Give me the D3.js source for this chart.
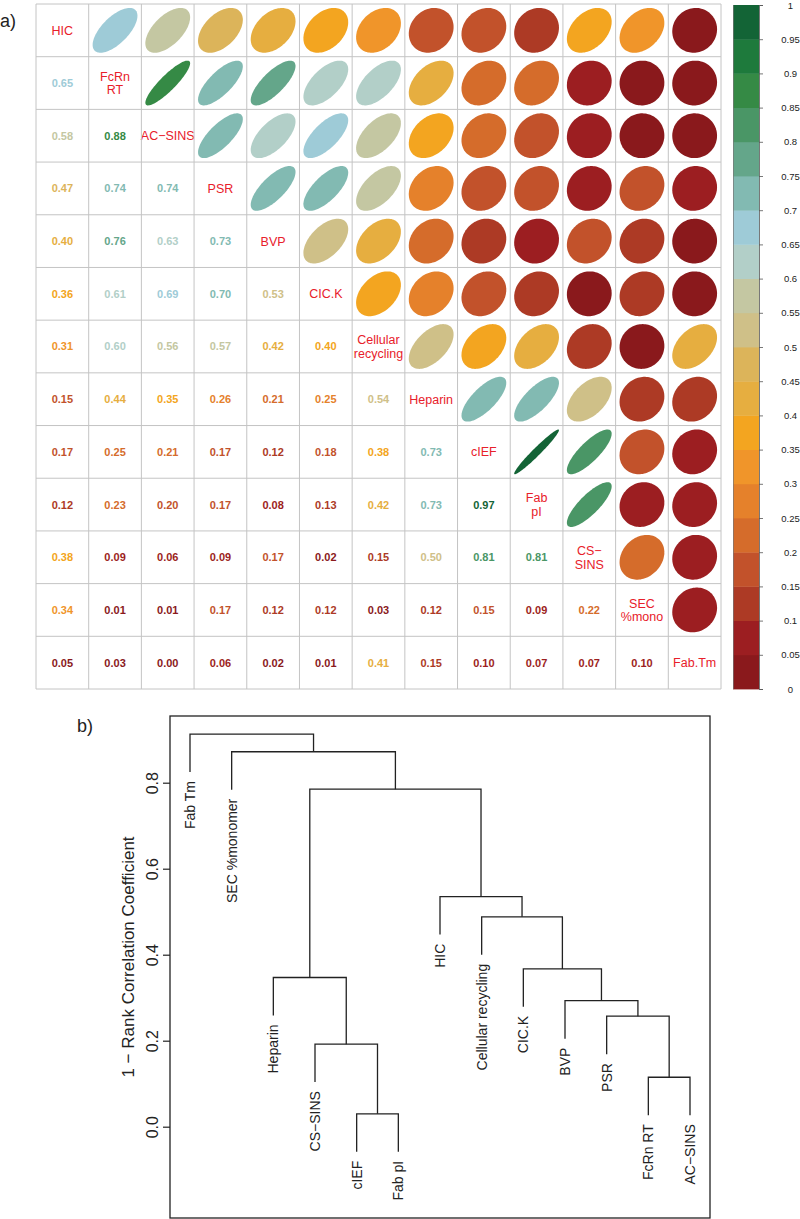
<!DOCTYPE html>
<meta charset="utf-8">
<style>
body {
	margin: 0;
	background: #fff;
}
svg {
	font-family: "Liberation Sans", Arial, sans-serif;
}
</style>
<body>
<svg width="800" height="1219"></svg>
<script src="https://d3js.org/d3.v7.min.js"></script>
<script>

// ---- panel a) data ----
var vars = ["HIC", "FcRn\nRT", "AC−SINS", "PSR", "BVP", "CIC.K", "Cellular\nrecycling",
	"Heparin", "cIEF", "Fab\npI", "CS−\nSINS", "SEC\n%mono", "Fab.Tm"];

// lower triangle, row i holds r(i, 0..i-1)
// (values on a bin edge nudged to the side their colour shows)
var lower = [
	[],
	[0.65],
	[0.58, 0.88],
	[0.47, 0.74, 0.74],
	[0.40, 0.76, 0.63, 0.73],
	[0.36, 0.61, 0.69, 0.70, 0.53],
	[0.31, 0.60, 0.56, 0.57, 0.42, 0.398],
	[0.15, 0.44, 0.35, 0.26, 0.21, 0.25, 0.54],
	[0.17, 0.249, 0.21, 0.17, 0.12, 0.18, 0.38, 0.73],
	[0.12, 0.23, 0.199, 0.17, 0.08, 0.13, 0.42, 0.73, 0.97],
	[0.38, 0.09, 0.06, 0.09, 0.17, 0.02, 0.149, 0.50, 0.81, 0.81],
	[0.34, 0.01, 0.01, 0.17, 0.12, 0.12, 0.03, 0.12, 0.15, 0.09, 0.22],
	[0.049, 0.03, 0.00, 0.06, 0.02, 0.01, 0.41, 0.149, 0.099, 0.07, 0.07, 0.099]
];

// 20 colour bins from 0 to 1
var palette = ["#8a191c", "#9c1e21", "#ad3a25", "#c2522b", "#d56c2b", "#e5812b", "#f0952a", "#f3a520",
	"#e6ae40", "#dcb45a", "#cfc088", "#c4c7a2", "#b2cfc8", "#9ecbd7", "#82bab2", "#64a68a",
	"#4a9666", "#358a45", "#1e7a3c", "#136436"];

var legendTicks = [0, 0.05, 0.1, 0.15, 0.2, 0.25, 0.3, 0.35, 0.4, 0.45, 0.5,
	0.55, 0.6, 0.65, 0.7, 0.75, 0.8, 0.85, 0.9, 0.95, 1];

// ---- panel b) data ----
var leaves = ["Fab Tm", "SEC %monomer", "Heparin", "CS−SINS", "cIEF", "Fab pI", "HIC",
	"Cellular recycling", "CIC.K", "BVP", "PSR", "FcRn RT", "AC−SINS"];
// hclust style merges: negative = leaf (1-based), positive = earlier merge
var merges = [[-5, -6], [-12, -13], [-4, 1], [-11, 2], [-10, 4], [-3, 3],
	[-9, 5], [-8, 7], [-7, 8], [6, 9], [-2, 10], [-1, 11]];
var heights = [0.030, 0.115, 0.192, 0.257, 0.293, 0.347, 0.367, 0.488, 0.535, 0.785, 0.872, 0.913];
var dendTicks = [0, 0.2, 0.4, 0.6, 0.8];

var svg = d3.select("svg");
var n = vars.length;

var color = d3.scaleQuantize().domain([0, 1]).range(palette);
function corr(i, j) { return i > j ? lower[i][j] : lower[j][i]; }

// ---- correlation matrix ----
var x = d3.scaleBand().domain(d3.range(n)).range([36, 721]);
var y = d3.scaleBand().domain(d3.range(n)).range([4, 689]);
var cs = x.bandwidth();

var mat = svg.append("g");

var cells = [];
for (var i = 0; i < n; i++)
	for (var j = 0; j < n; j++)
		cells.push({i: i, j: j});

var ts = d3.range(0, 2 * Math.PI + 0.001, 2 * Math.PI / 98);
var ell = d3.line();
function ellipsePath(r) {
	var a = Math.acos(r);
	var s = 0.85 * cs;
	return ell(ts.map(function(t) {
		return [Math.cos(t + a / 2) / 2 * s, -Math.cos(t - a / 2) / 2 * s];
	})) + "Z";
}

var cell = mat.selectAll(".cell")
	.data(cells)
	.enter().append("g")
	.attr("class", "cell")
	.attr("transform", function(d) {
		return "translate(" + (x(d.j) + cs / 2) + "," + (y(d.i) + cs / 2) + ")";
	});

cell.filter(function(d) { return d.j > d.i; })
	.append("path")
	.attr("d", function(d) { return ellipsePath(corr(d.i, d.j)); })
	.attr("fill", function(d) { return color(corr(d.i, d.j)); });

cell.filter(function(d) { return d.j < d.i; })
	.append("text")
	.attr("text-anchor", "middle")
	.attr("dy", "0.36em")
	.attr("font-size", 11)
	.attr("font-weight", "bold")
	.attr("fill", function(d) { return color(corr(d.i, d.j)); })
	.text(function(d) { return corr(d.i, d.j).toFixed(2); });

cell.filter(function(d) { return d.j == d.i; })
	.append("text")
	.attr("text-anchor", "middle")
	.attr("font-size", 12.5)
	.attr("fill", "#e8202a")
	.each(function(d) {
		var lines = vars[d.i].split("\n");
		var t = d3.select(this);
		lines.forEach(function(l, k) {
			t.append("tspan")
				.attr("x", 0)
				.attr("y", (k - (lines.length - 1) / 2) * 13.5)
				.attr("dy", "0.36em")
				.text(l);
		});
	});

// grid
mat.selectAll(".vl")
	.data(d3.range(n + 1))
	.enter().append("line")
	.attr("x1", function(d) { return 36 + d * cs; })
	.attr("x2", function(d) { return 36 + d * cs; })
	.attr("y1", 4).attr("y2", 689)
	.attr("stroke", "#c4c4c4").attr("stroke-width", 1);
mat.selectAll(".hl")
	.data(d3.range(n + 1))
	.enter().append("line")
	.attr("y1", function(d) { return 4 + d * cs; })
	.attr("y2", function(d) { return 4 + d * cs; })
	.attr("x1", 36).attr("x2", 721)
	.attr("stroke", "#c4c4c4").attr("stroke-width", 1);

// colour legend
var yLeg = d3.scaleLinear().domain([0, 1]).range([689, 5]);
var leg = svg.append("g");
leg.selectAll("rect")
	.data(palette)
	.enter().append("rect")
	.attr("x", 733)
	.attr("width", 26)
	.attr("y", function(d, k) { return yLeg((k + 1) / palette.length); })
	.attr("height", function(d, k) { return yLeg(k / palette.length) - yLeg((k + 1) / palette.length) + 0.4; })
	.attr("fill", function(d) { return d; });
leg.append("line")
	.attr("x1", 733.5).attr("x2", 733.5)
	.attr("y1", yLeg(0)).attr("y2", yLeg(1))
	.attr("stroke", "#777").attr("stroke-width", 0.7);

var legAxis = leg.append("g")
	.attr("transform", "translate(759,0)")
	.call(d3.axisRight(yLeg).tickValues(legendTicks).tickSize(4).tickFormat(d3.format("~g")));
legAxis.select(".domain").attr("stroke", "#555").attr("stroke-width", 0.8);
legAxis.selectAll(".tick line").attr("stroke", "#555").attr("stroke-width", 0.8);
legAxis.selectAll(".tick text")
	.attr("x", 31.5)
	.attr("text-anchor", "middle")
	.attr("font-family", "Liberation Sans, Arial, sans-serif")
	.attr("font-size", 9.5)
	.attr("fill", "#222");

svg.append("text")
	.attr("x", 0).attr("y", 27)
	.attr("font-size", 18)
	.attr("fill", "#222")
	.text("a)");

// ---- dendrogram ----
var dx = d3.scaleLinear().domain([1, leaves.length]).range([190, 690]);
var dy = d3.scaleLinear().domain([0, 0.8]).range([1126.7, 782.7]);
var hang = 0.1 * (d3.max(heights) - d3.min(heights));

var nodeX = [], nodeH = [];
function childX(c) { return c < 0 ? dx(-c) : nodeX[c - 1]; }
function childH(c, h) { return c < 0 ? h - hang : nodeH[c - 1]; }

var dend = svg.append("g");
var leafTop = {};
merges.forEach(function(m, k) {
	var h = heights[k];
	var xl = childX(m[0]), xr = childX(m[1]);
	var hl = childH(m[0], h), hr = childH(m[1], h);
	if (m[0] < 0) leafTop[-m[0]] = hl;
	if (m[1] < 0) leafTop[-m[1]] = hr;
	nodeX[k] = (xl + xr) / 2;
	nodeH[k] = h;
	dend.append("path")
		.attr("d", "M" + xl + "," + dy(hl) + "V" + dy(h) + "H" + xr + "V" + dy(hr))
		.attr("fill", "none")
		.attr("stroke", "#222")
		.attr("stroke-width", 1.3);
});

dend.selectAll(".leaf")
	.data(leaves)
	.enter().append("text")
	.attr("class", "leaf")
	.attr("transform", function(d, k) {
		return "translate(" + dx(k + 1) + "," + (dy(leafTop[k + 1]) + 9) + ") rotate(-90)";
	})
	.attr("text-anchor", "end")
	.attr("dy", "0.35em")
	.attr("font-size", 14)
	.attr("fill", "#222")
	.text(function(d) { return d; });

dend.append("rect")
	.attr("x", 170).attr("y", 716)
	.attr("width", 540).attr("height", 502)
	.attr("fill", "none")
	.attr("stroke", "#222")
	.attr("stroke-width", 1.3);

var dAxis = dend.append("g")
	.attr("transform", "translate(170,0)")
	.call(d3.axisLeft(dy).tickValues(dendTicks).tickSize(7).tickFormat(d3.format(".1f")));
dAxis.select(".domain").remove();
dAxis.selectAll(".tick line").attr("stroke", "#222").attr("stroke-width", 1.2);
dAxis.selectAll(".tick text")
	.attr("x", null)
	.attr("dy", "0.35em")
	.attr("transform", "translate(-18,0) rotate(-90)")
	.attr("text-anchor", "middle")
	.attr("font-family", "Liberation Sans, Arial, sans-serif")
	.attr("font-size", 16)
	.attr("fill", "#222");

dend.append("text")
	.attr("transform", "translate(128,957) rotate(-90)")
	.attr("text-anchor", "middle")
	.attr("dy", "0.35em")
	.attr("font-size", 17)
	.attr("fill", "#222")
	.text("1 − Rank Correlation Coefficient");

svg.append("text")
	.attr("x", 77).attr("y", 732)
	.attr("font-size", 18)
	.attr("fill", "#222")
	.text("b)");

</script>
</body>
